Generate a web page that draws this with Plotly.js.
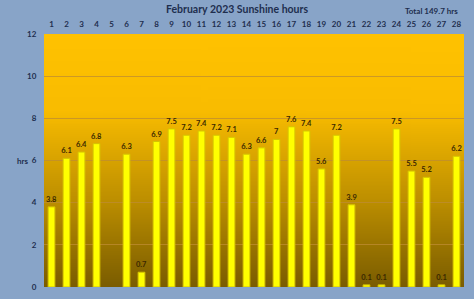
<!DOCTYPE html>
<html>
<head>
<meta charset="utf-8">
<script src="https://cdn.plot.ly/plotly-3.0.1.min.js"></script>
<style>html,body{margin:0;padding:0;background:#88A4C8;}#chart{width:474px;height:299px;}</style>
</head>
<body>
<div id="chart"></div>
<script>
const days = ["1","2","3","4","5","6","7","8","9","10","11","12","13","14","15","16","17","18","19","20","21","22","23","24","25","26","27","28"];
const sunshine = [3.8,6.1,6.4,6.8,0,6.3,0.7,6.9,7.5,7.2,7.4,7.2,7.1,6.3,6.6,7,7.6,7.4,5.6,7.2,3.9,0.1,0.1,7.5,5.5,5.2,0.1,6.2];
const titleText = "February 2023 Sunshine hours";
const totalText = "Total 149.7 hrs";
const yTicks = [0,2,4,6,8,10,12];

// gradient background image for the plot area
const cv = document.createElement('canvas');
cv.width = 4; cv.height = 256;
const ctx = cv.getContext('2d');
const g = ctx.createLinearGradient(0,0,0,256);
g.addColorStop(0, '#FFC200');
g.addColorStop(0.3, '#F9BC00');
g.addColorStop(0.65, '#BE9000');
g.addColorStop(1, '#7A5C00');
ctx.fillStyle = g; ctx.fillRect(0,0,4,256);
const bg = cv.toDataURL();

const navy = '#1E2E4E';
const trace = {
  type: 'bar',
  x: days,
  y: sunshine,
  width: 0.45,
  marker: {color: '#FFFF00', line: {color: '#D6C400', width: sunshine.map(v => v > 0 ? 1 : 0)}},
  text: sunshine.map(v => v > 0 ? String(v) : ''),
  textposition: 'outside',
  constraintext: 'none',
  cliponaxis: false,
  textfont: {family: 'Lato', size: 7.5, color: '#3A2800', weight: 'bold'},
  hoverinfo: 'skip'
};

const layout = {
  width: 474, height: 299,
  margin: {l: 44, r: 10, t: 34, b: 12, pad: 0},
  paper_bgcolor: '#88A4C8',
  plot_bgcolor: 'rgba(0,0,0,0)',
  showlegend: false,
  bargap: 0.55,
  xaxis: {
    type: 'category', side: 'top',
    showgrid: false, zeroline: false, showline: false,
    ticks: 'outside', ticklen: 3, tickcolor: 'rgba(0,0,0,0)',
    tickfont: {family: 'Lato', size: 8, color: navy, weight: 'bold'},
    fixedrange: true
  },
  yaxis: {
    range: [0, 12],
    tickvals: yTicks,
    showgrid: true, gridcolor: 'rgba(190,140,50,0.75)', gridwidth: 1,
    zeroline: false, showline: false,
    ticks: 'outside', ticklen: 5, tickcolor: 'rgba(0,0,0,0)',
    tickfont: {family: 'Lato', size: 8, color: navy, weight: 'bold'},
    fixedrange: true
  },
  images: [{source: bg, xref: 'paper', yref: 'paper', x: 0, y: 1, sizex: 1, sizey: 1,
            sizing: 'stretch', xanchor: 'left', yanchor: 'top', layer: 'below'}],
  annotations: [
    {text: titleText, xref: 'paper', yref: 'paper', x: 0.46, y: 1, yshift: 25, showarrow: false,
     font: {family: 'Lato', size: 10.5, color: navy, weight: 'bold'}, xanchor: 'center', yanchor: 'middle'},
    {text: totalText, xref: 'paper', yref: 'paper', x: 0.99, y: 1, yshift: 23, showarrow: false,
     font: {family: 'Lato', size: 8, color: navy, weight: 'bold'}, xanchor: 'right', yanchor: 'middle'},
    {text: 'hrs', xref: 'paper', yref: 'paper', x: 0, xshift: -22, y: 0.5, showarrow: false,
     font: {family: 'Lato', size: 8, color: navy, weight: 'bold'}, xanchor: 'center', yanchor: 'middle'}
  ]
};

Plotly.newPlot('chart', [trace], layout, {displayModeBar: false, staticPlot: true});
</script>
</body>
</html>
